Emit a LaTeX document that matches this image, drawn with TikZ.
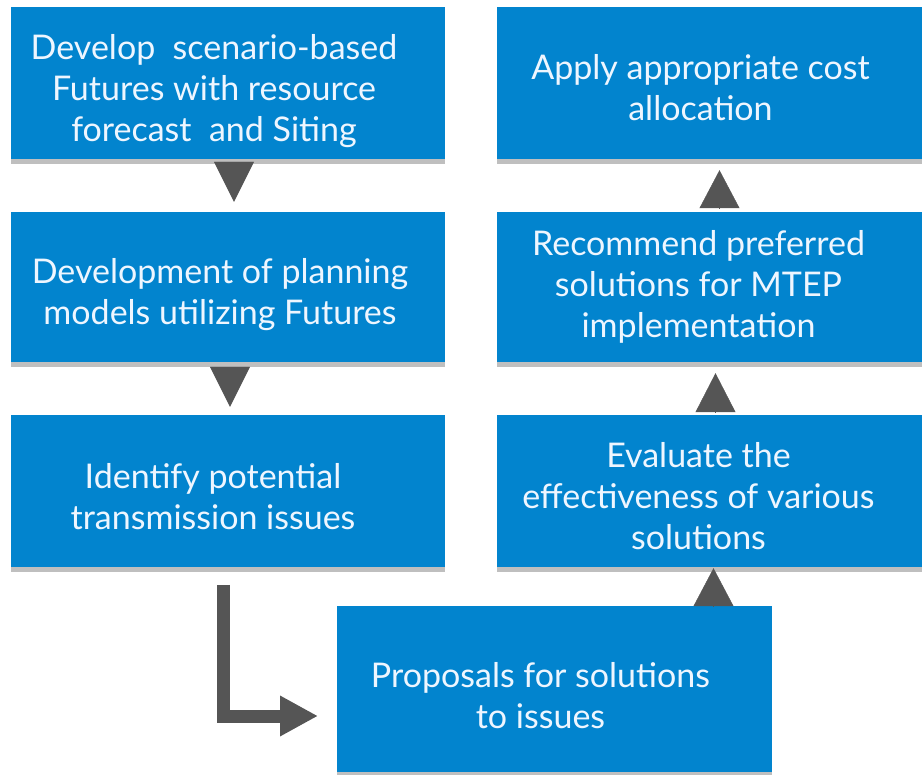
\documentclass[tikz,border=0pt]{standalone}
\usepackage{fontspec}
\setmainfont{Lato}
\usetikzlibrary{arrows.meta,shadows}
\definecolor{boxblue}{RGB}{2,132,206}
\definecolor{boxtext}{RGB}{238,246,255}
\definecolor{arrowgray}{RGB}{85,85,85}

\begin{document}
\begin{tikzpicture}[x=1pt,y=-1pt,
        stepbox/.style={fill=boxblue, inner sep=0pt,
            drop shadow={shadow xshift=0pt, shadow yshift=-5pt, opacity=0.25, fill=black}},
        leftbox/.style={stepbox, minimum width=434pt, minimum height=152pt},
        rightbox/.style={stepbox, minimum width=425pt, minimum height=152pt},
        boxlabel/.style={text=boxtext, align=center, inner sep=0pt,
            font=\fontsize{34}{41}\selectfont},
        tri/.style={arrowgray, line width=0.4pt, -{Triangle[width=40pt,length=#1]}},
        tri/.default=40pt]
    \useasboundingbox (0,0) rectangle (922,775);
    % left column
    \node[leftbox, label={[boxlabel, name=developtext, xshift=-14pt, yshift=-8pt]center:Develop\ \ scenario-based\\Futures with resource\\forecast\ \ and Siting}] (develop) at (228,83) {};
    \node[leftbox, minimum height=150pt, label={[boxlabel, name=modelstext, xshift=-8pt, yshift=-8pt]center:Development of planning\\models utilizing Futures}] (models) at (228,287) {};
    \node[leftbox, label={[boxlabel, name=identifytext, xshift=-15pt, yshift=-6pt]center:Identify potential\\transmission issues}] (identify) at (228,491) {};
    % bottom
    \node[stepbox, minimum width=435pt, minimum height=166pt, label={[boxlabel, name=proposalstext, xshift=-14pt, yshift=-7pt]center:Proposals for solutions\\to issues}] (proposals) at (554.5,689) {};
    % right column
    \node[rightbox, label={[boxlabel, name=evaluatetext, xshift=-11pt, yshift=-5pt]center:Evaluate the\\effectiveness of various\\solutions}] (evaluate) at (709.5,491.5) {};
    \node[rightbox, minimum height=150pt, label={[boxlabel, name=recommendtext, xshift=-11pt]center:Recommend preferred\\solutions for MTEP\\implementation}] (recommend) at (709.5,287) {};
    \node[rightbox, label={[boxlabel, name=allocatetext, xshift=-9pt, yshift=-5pt]center:Apply appropriate cost\\allocation}] (allocate) at (709.5,83) {};
    % triangles
    \draw[tri, shorten <=3pt, shorten >=10pt] ([xshift=6pt]develop.south) -- ([xshift=6pt]models.north);
    \draw[tri, shorten <=5pt, shorten >=8pt] ([xshift=2pt]models.south) -- ([xshift=2pt]identify.north);
    \draw[tri=38pt, shorten >=0.5pt] ([xshift=4pt]evaluate.south |- proposals.north) -- ([xshift=4pt]evaluate.south);
    \draw[tri=39pt, shorten <=3.5pt, shorten >=11pt] ([xshift=6pt]evaluate.north) -- ([xshift=6pt]recommend.south);
    \draw[tri=38pt, shorten <=4pt, shorten >=11pt] ([xshift=10pt]recommend.north) -- ([xshift=10pt]allocate.south);
    % bent arrow
    \coordinate (bendstart) at (223,585);
    \coordinate (bendend) at (337,716);
    \draw[arrowgray, line width=13pt, line join=miter, shorten >=19pt,
        -{Triangle[width=38pt,length=38pt]}] (bendstart) |- (bendend);
\end{tikzpicture}
\end{document}
